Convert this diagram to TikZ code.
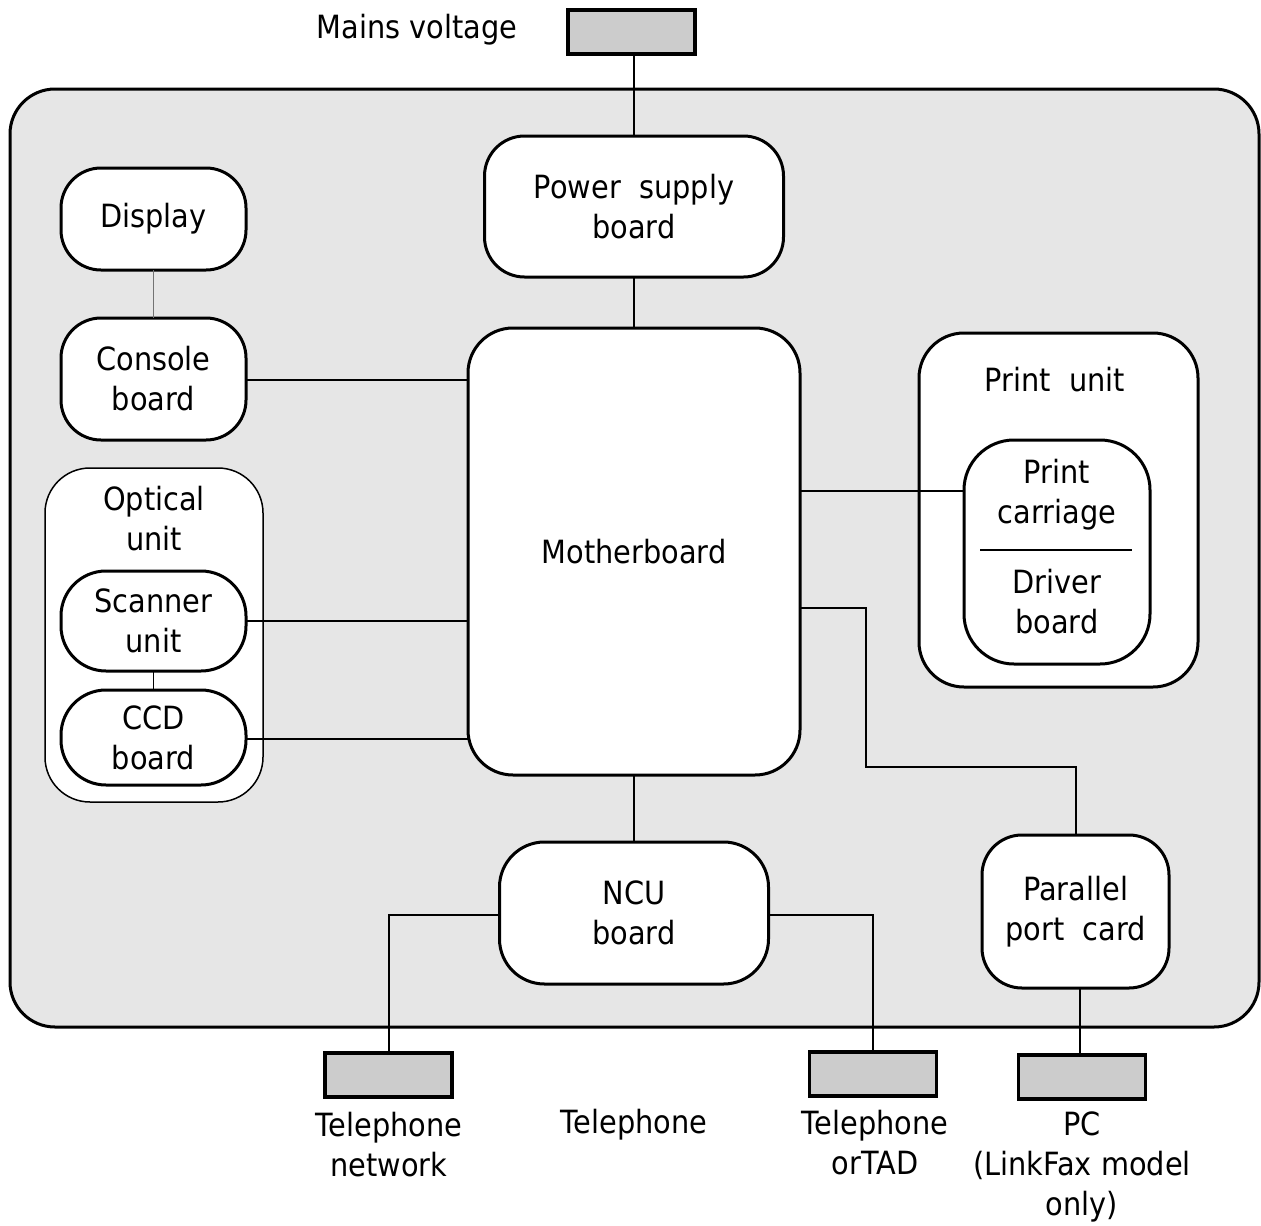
\documentclass[tikz,border=0pt]{standalone}
\usepackage{fontspec}
\setmainfont{DejaVu Sans}[FakeStretch=0.9]
\usetikzlibrary{calc}
\definecolor{outerfill}{HTML}{E6E6E6}
\definecolor{plugfill}{HTML}{CCCCCC}
\begin{document}
\begin{tikzpicture}[x=1pt,y=-1pt,
  every node/.style={font=\fontsize{32}{40}\selectfont, align=center, inner sep=0pt, outer sep=0pt},
  board/.style={draw, line width=3pt, fill=white, rounded corners=40pt},
  unitbox/.style={draw, line width=3pt, fill=white, rounded corners=45pt},
  plug/.style={draw, line width=3.5pt, fill=plugfill, minimum width=127pt, minimum height=44pt},
  wire/.style={line width=2pt},
  thinwire/.style={line width=1.5pt, draw=black!55}]
\useasboundingbox (0,0) rectangle (1261,1226);

% outer case
\node[draw, line width=3pt, fill=outerfill, rounded corners=45pt,
      minimum width=1249pt, minimum height=938pt] (case) at (634.5,558) {};

% external plugs and labels
\node[plug] (mains) at (631.5,32) {};
\node (mainslbl) at (417,30) {Mains voltage};
\node[plug] (tnet) at (388.5,1075) {};
\node (tnetlbl) at (389,1145) {Telephone\\network};
\node (tellbl) at (634,1125) {Telephone};
\node[plug] (tad) at (873,1074) {};
\node (tadlbl) at (875,1143) {Telephone\\orTAD};
\node[plug] (pc) at (1082,1077) {};
\node (pclbl) at (1082,1167) {PC\\(LinkFax model\\only)};

% boards
\node[board, minimum width=299pt, minimum height=141pt] (psu) at (634,206.5) {Power\ \ supply\\board};
\node[board, rounded corners=45pt, minimum width=332pt, minimum height=447pt] (mb) at (634,551.5) {Motherboard};
\node[board, rounded corners=45pt, minimum width=269pt, minimum height=142pt] (ncu) at (634,913) {NCU\\board};
\node[board, minimum width=185pt, minimum height=102pt] (disp) at (153.5,219) {Display};
\node[board, minimum width=185pt, minimum height=122pt] (cons) at (153.5,379) {Console\\board};

% optical unit
\node[draw, line width=1.5pt, fill=white, rounded corners=45pt,
      minimum width=218pt, minimum height=334pt] (opt) at (154,635) {};
\node (optlbl) at (154,519) {Optical\\unit};
\node[board, rounded corners=45pt, minimum width=185pt, minimum height=100pt] (scan) at (153.5,621) {Scanner\\unit};
\node[board, rounded corners=45pt, minimum width=185pt, minimum height=95pt] (ccd) at (153.5,737.5) {CCD\\board};

% print unit
\node[unitbox, minimum width=279pt, minimum height=354pt] (prunit) at (1058.5,510) {};
\node (prlbl) at (1055,380) {Print\ \ unit};
\node[board, rounded corners=50pt, minimum width=186pt, minimum height=224pt] (carr) at (1057,552) {};
\node (carrlbl) at (1057,495) {Print\\carriage};
\node (drvlbl) at (1057,601.5) {Driver\\board};
\draw[line width=1.2pt] ($(carr.west)+(16,-2)$) -- ($(carr.east)+(-18,-2)$);

% parallel port card
\node[board, minimum width=187pt, minimum height=153pt] (par) at (1075.5,911.5) {Parallel\\port\ \ card};

% connectors
\draw[wire] (psu.north |- mains.south) -- (psu.north);
\draw[wire] (psu) -- (mb);
\draw[wire] (mb) -- (ncu);
\draw[thinwire] (disp) -- (cons);
\draw[wire] (cons.east |- 0,380) -- (mb.west |- 0,380);
\draw[wire] (scan.east) -- (scan.east -| mb.west);
\draw[wire] (ccd.east |- 0,739) -- (mb.west |- 0,739);
\draw[wire, line width=1.5pt] (scan.south |- 0,671) -- (ccd.north |- 0,690);
\draw[wire] (mb.east |- 0,491) -- (carr.west |- 0,491);
\coordinate (bend) at (866,767);
\draw[wire] (mb.east |- 0,608) -| (bend) -| (par.north);
\draw[wire] (par.south -| 1080,0) -- (pc.north -| 1080,0);
\draw[wire] (ncu.west |- 0,915) -| (tnet.north);
\draw[wire] (ncu.east |- 0,915) -| (tad.north);
\end{tikzpicture}
\end{document}
